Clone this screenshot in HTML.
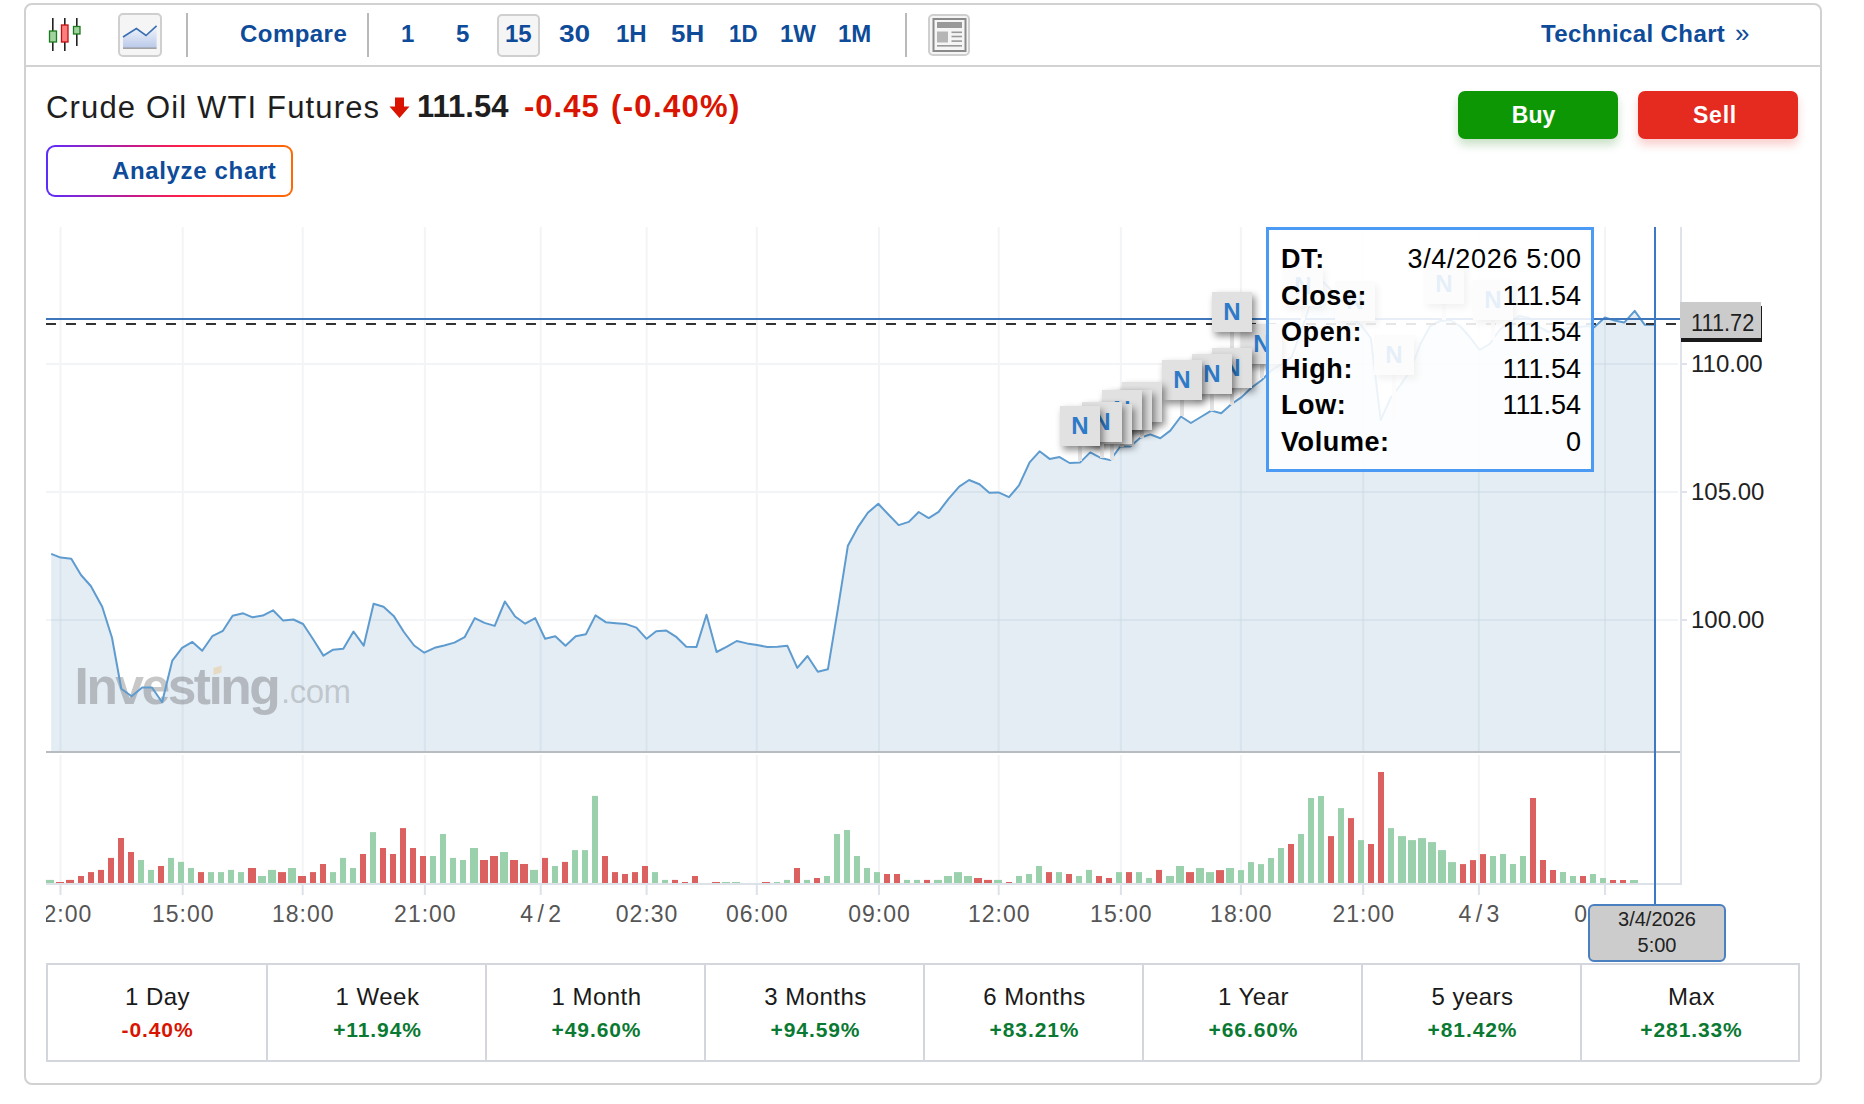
<!DOCTYPE html>
<html>
<head>
<meta charset="utf-8">
<style>
*{box-sizing:border-box;margin:0;padding:0}
html,body{width:1864px;height:1104px;overflow:hidden;background:#fff}
body{position:relative;font-family:"Liberation Sans",Arial,sans-serif;color:#1a1a1a}
.abs{position:absolute}
#frame{position:absolute;left:24px;top:3px;width:1798px;height:1082px;border:2px solid #d1d1d1;border-radius:8px}
#tbline{position:absolute;left:25px;top:65px;width:1796px;height:2px;background:#d2d2d2}
.tb{position:absolute;top:19px;font-size:24px;font-weight:bold;color:#0e4b99;line-height:30px;white-space:nowrap}
.sep{position:absolute;top:13px;width:2px;height:44px;background:#b9b9b9}
.btn{position:absolute;border:2px solid #cfcfcf;border-radius:5px;background:#f5f5f5}
#title{position:absolute;left:46px;top:90px;font-size:31px;letter-spacing:1.15px;line-height:36px;color:#1e1e1e;white-space:nowrap}
#price{position:absolute;left:417px;top:89px;font-size:31px;line-height:36px;font-weight:bold;color:#1e1e1e;white-space:nowrap}
#chg{position:absolute;left:524px;top:89px;font-size:31px;line-height:36px;font-weight:bold;color:#d91400;white-space:nowrap;letter-spacing:1px}
#analyze{position:absolute;left:46px;top:145px;width:247px;height:52px;border-radius:9px;background:linear-gradient(90deg,#5a2dff 0%,#c51a8a 35%,#ff1f4a 55%,#ff6a00 100%);padding:2px}
#analyze div{width:100%;height:100%;background:#fff;border-radius:7px;font-size:24px;font-weight:bold;color:#0e4b99;line-height:48px;padding-left:64px;white-space:nowrap;letter-spacing:0.65px}
.bs{position:absolute;top:91px;width:160px;height:48px;border-radius:7px;color:#fff;font-weight:bold;font-size:23px;line-height:47px;text-align:center;padding-right:9px;padding-top:1px}
#buy{left:1458px;background:#0e9705;box-shadow:0 6px 10px rgba(14,120,5,0.22)}
#sell{left:1638px;background:#e52a1f;box-shadow:0 6px 10px rgba(229,42,31,0.22)}
.xl{position:absolute;top:9px;width:120px;text-align:center;font-size:23px;color:#555;line-height:30px;white-space:nowrap;letter-spacing:1px;text-indent:1px}
.yl{position:absolute;left:1691px;font-size:24px;color:#222;line-height:28px;white-space:nowrap}
#plabel{position:absolute;left:1680px;top:302px;width:81px;height:36px;background:#cbcbcb;box-shadow:1px 4px 0 #1a1a1a;font-size:24px;line-height:42px;color:#1e1e1e;padding-left:11px;white-space:nowrap}
.mk{position:absolute;width:40px;height:40px;background:#e1e1e1;box-shadow:3px 4px 7px rgba(0,0,0,0.45);color:#2d7ac8;font-weight:bold;font-size:24px;line-height:39px;text-align:center}
.stem{position:absolute;width:4px;background:#e3e3e3}
#tip{position:absolute;left:1266px;top:227px;width:328px;height:245px;border:3px solid #4b9af4;background:rgba(255,255,255,0.88)}
.tr{position:absolute;left:12px;width:300px;font-size:27px;line-height:30px;color:#000;white-space:nowrap}
.tr b{position:absolute;left:0;letter-spacing:0.6px}
.tr span{position:absolute;right:0}
#dbox{position:absolute;left:1588px;top:904px;width:138px;height:58px;background:#cccccc;border:2px solid #4a7fc0;border-radius:6px;font-size:20px;line-height:26px;text-align:center;color:#222;padding-top:0px}
#perf{position:absolute;left:46px;top:963px;width:1754px;height:99px;border:2px solid #d3d7dd}
.pc{position:absolute;top:0;height:95px;width:219px;text-align:center}
.pc .a{position:absolute;left:0;right:0;top:17px;font-size:24px;line-height:30px;color:#1a1a1a;letter-spacing:0.5px}
.pc .b{position:absolute;left:0;right:0;top:52px;font-size:21px;line-height:26px;font-weight:bold;letter-spacing:0.9px}
.pd{position:absolute;top:0;width:2px;height:95px;background:#d3d7dd}
.neg{color:#d91400}.pos{color:#0a7a32}
</style>
</head>
<body>
<div id="frame"></div>
<div id="tbline"></div>

<!-- toolbar -->
<svg class="abs" style="left:44px;top:14px" width="42" height="42" viewBox="0 0 42 42">
  <rect x="8" y="4" width="1.6" height="33" fill="#222"/>
  <rect x="5.5" y="17" width="7" height="11" fill="#9fd39f" stroke="#1d7a1d" stroke-width="1.3"/>
  <rect x="20" y="4" width="1.6" height="33" fill="#222"/>
  <rect x="17.5" y="11" width="6.5" height="17" fill="#ff7f7f" stroke="#c01010" stroke-width="1.3"/>
  <rect x="32" y="4" width="1.6" height="28" fill="#222"/>
  <rect x="29.5" y="12.5" width="6.5" height="7.5" fill="#9fd39f" stroke="#1d7a1d" stroke-width="1.3"/>
</svg>
<div class="btn" style="left:118px;top:13px;width:44px;height:44px"></div>
<svg class="abs" style="left:118px;top:13px" width="44" height="44" viewBox="0 0 44 44">
  <defs><linearGradient id="lg" x1="0" y1="0" x2="0" y2="1"><stop offset="0" stop-color="#f4f6fb"/><stop offset="1" stop-color="#b9c9ea"/></linearGradient></defs>
  <polygon points="5,24 18.4,15.5 28,22.5 38.6,12.9 38.6,35 5,35" fill="url(#lg)"/>
  <polyline points="5,24 18.4,15.5 28,22.5 38.6,12.9" fill="none" stroke="#3a6fb3" stroke-width="1.6"/>
  <rect x="5" y="34.5" width="33.6" height="1.4" fill="#9a9a9a"/>
</svg>
<div class="sep" style="left:186px"></div>
<div class="tb" style="left:240px;letter-spacing:0.45px">Compare</div>
<div class="sep" style="left:367px"></div>
<div class="tb" style="left:401px">1</div>
<div class="tb" style="left:456px">5</div>
<div class="btn" style="left:497px;top:14px;width:43px;height:43px"></div>
<div class="tb" style="left:505px">15</div>
<div class="tb" style="left:559px;transform:scaleX(1.17);transform-origin:0 0">30</div>
<div class="tb" style="left:616px">1H</div>
<div class="tb" style="left:671px;transform:scaleX(1.08);transform-origin:0 0">5H</div>
<div class="tb" style="left:729px;transform:scaleX(0.93);transform-origin:0 0">1D</div>
<div class="tb" style="left:780px">1W</div>
<div class="tb" style="left:838px">1M</div>
<div class="sep" style="left:905px"></div>
<div class="btn" style="left:928px;top:14px;width:42px;height:42px"></div>
<svg class="abs" style="left:928px;top:14px" width="42" height="42" viewBox="0 0 42 42">
  <rect x="5.5" y="5" width="32" height="32" fill="none" stroke="#8a8a8a" stroke-width="2"/>
  <rect x="9" y="8" width="25" height="6" fill="#999"/>
  <rect x="9" y="17.5" width="11" height="11" fill="#b5b5b5"/>
  <rect x="23.5" y="17.5" width="10.5" height="1.6" fill="#999"/>
  <rect x="23.5" y="21.7" width="10.5" height="1.6" fill="#999"/>
  <rect x="23.5" y="26.3" width="10.5" height="1.6" fill="#999"/>
  <rect x="9" y="31" width="25" height="1.6" fill="#999"/>
</svg>
<div class="tb" style="left:1541px;letter-spacing:0.4px">Technical Chart</div>
<div class="tb" style="left:1735px;top:18px;font-weight:normal;font-size:26px">&raquo;</div>

<!-- title row -->
<div id="title">Crude Oil WTI Futures</div>
<svg class="abs" style="left:389px;top:97px" width="21" height="22" viewBox="0 0 21 22"><polygon points="6,0.5 15,0.5 15,9.5 20.5,9.5 10.5,21 0.5,9.5 6,9.5" fill="#d91400"/></svg>
<div id="price">111.54</div>
<div id="chg">-0.45</div><div id="chg" style="left:611px;letter-spacing:1.35px">(-0.40%)</div>
<div id="analyze"><div>Analyze chart</div></div>
<div class="bs" id="buy">Buy</div>
<div class="bs" id="sell" style="letter-spacing:0.8px;padding-right:6px">Sell</div>

<!-- chart -->
<svg width="1864" height="1104" viewBox="0 0 1864 1104" style="position:absolute;left:0;top:0">
<defs><clipPath id="pc"><rect x="46" y="227" width="1635" height="524"/></clipPath><clipPath id="vc"><rect x="46" y="753" width="1635" height="131"/></clipPath></defs>
<g clip-path="url(#pc)"><rect x="59.5" y="227" width="2" height="524" fill="#f3f4f6"/><rect x="181.7" y="227" width="2" height="524" fill="#f3f4f6"/><rect x="301.7" y="227" width="2" height="524" fill="#f3f4f6"/><rect x="423.9" y="227" width="2" height="524" fill="#f3f4f6"/><rect x="539.7" y="227" width="2" height="524" fill="#f3f4f6"/><rect x="645.6" y="227" width="2" height="524" fill="#f3f4f6"/><rect x="755.8" y="227" width="2" height="524" fill="#f3f4f6"/><rect x="878" y="227" width="2" height="524" fill="#f3f4f6"/><rect x="997.7" y="227" width="2" height="524" fill="#f3f4f6"/><rect x="1119.9" y="227" width="2" height="524" fill="#f3f4f6"/><rect x="1239.9" y="227" width="2" height="524" fill="#f3f4f6"/><rect x="1362.2" y="227" width="2" height="524" fill="#f3f4f6"/><rect x="1477.9" y="227" width="2" height="524" fill="#f3f4f6"/><rect x="1604" y="227" width="2" height="524" fill="#f3f4f6"/><rect x="46" y="363" width="1632" height="2" fill="#f3f4f6"/><rect x="46" y="491" width="1632" height="2" fill="#f3f4f6"/><rect x="46" y="619" width="1632" height="2" fill="#f3f4f6"/></g>
<rect x="59.5" y="755" width="2" height="128" fill="#f3f4f6"/>
<rect x="181.7" y="755" width="2" height="128" fill="#f3f4f6"/>
<rect x="301.7" y="755" width="2" height="128" fill="#f3f4f6"/>
<rect x="423.9" y="755" width="2" height="128" fill="#f3f4f6"/>
<rect x="539.7" y="755" width="2" height="128" fill="#f3f4f6"/>
<rect x="645.6" y="755" width="2" height="128" fill="#f3f4f6"/>
<rect x="755.8" y="755" width="2" height="128" fill="#f3f4f6"/>
<rect x="878" y="755" width="2" height="128" fill="#f3f4f6"/>
<rect x="997.7" y="755" width="2" height="128" fill="#f3f4f6"/>
<rect x="1119.9" y="755" width="2" height="128" fill="#f3f4f6"/>
<rect x="1239.9" y="755" width="2" height="128" fill="#f3f4f6"/>
<rect x="1362.2" y="755" width="2" height="128" fill="#f3f4f6"/>
<rect x="1477.9" y="755" width="2" height="128" fill="#f3f4f6"/>
<rect x="1604" y="755" width="2" height="128" fill="#f3f4f6"/>
<polygon points="51.2,751 51.2,553.9 60.7,557.6 71.3,558.7 81,575 90.8,586 102.2,606.8 112,637.8 121.3,688.7 131.6,696.2 142.2,687.5 152,687.5 162.1,702.2 172.3,660.6 182.1,647.9 192.4,641.9 202.2,650.8 212.3,636.2 222.9,630.8 232.6,615.8 243.2,613.3 252.6,617.3 262.8,615.6 273,610.3 283.2,620.6 293.4,619.5 303.1,624 313.3,639.5 323.4,655.6 333.1,649.7 343.3,648.7 353.5,631.5 363.7,645.7 373.6,603.8 383.5,606.8 393.7,615.9 403.9,632 414.1,645.5 424.3,652.7 434.6,647.8 444.2,645.5 454.4,642.6 464.6,637.2 474.8,618.1 484.5,622.9 494.7,625.9 504.9,601.5 515.1,616.5 525.2,623.7 535.2,618.1 545.1,638.8 555.3,636.3 565.5,645.7 575.7,636.3 585.9,634.2 595.5,615.4 605.7,622.2 615.9,623.2 626.2,624.1 636.4,627.6 646.6,638.8 656.2,631.3 666.4,630.6 676.6,637.2 686.3,646.7 696.5,646.9 706.5,614.7 716.6,652 726.5,646.9 736.7,641 746.9,643.4 757.1,644.9 767.3,647.1 777.5,646.7 787.4,645.8 797.3,667.8 807.5,656 817.8,671.8 827.9,669.3 837.8,609.4 847.9,545.7 858.3,526.6 867.8,512.7 878.3,503.8 888.2,514.3 898.7,525.1 908.8,521.9 918.7,512 928.7,518.1 938.6,511.8 948.7,498.6 959.2,486.7 969.1,480 979.5,484.2 989.3,492.7 998.6,492.4 1009,497.2 1019,485.4 1029.6,462.4 1039.6,451.3 1049.6,458.9 1059.6,457.1 1069.6,463 1080.2,462.4 1090.2,452.4 1100.2,457.7 1110.3,460.1 1120.3,446.5 1130.3,446.5 1140.3,437.7 1150.3,434.4 1160.3,438.3 1170.3,430.6 1180.9,416.5 1190.9,423 1200.8,417 1211.3,410.6 1221.2,413.2 1231.2,404.3 1241.6,397.1 1251.1,388 1261.6,380.3 1271.8,370 1281.7,364 1291.6,357 1301.5,330 1311.4,300 1321.3,280 1331.2,290 1341.1,305 1351,318 1360.9,325 1370.8,338 1380.7,420 1390.6,398 1400.5,385 1410.4,370 1420.3,344 1430.2,326 1440.1,321 1450,320 1459.9,326 1469.8,337 1479.7,350 1489.6,344 1499.5,330 1509.4,322 1519.3,316 1529.2,318 1539.1,327 1549,332 1558.9,330 1568.8,328 1578.7,327 1588.6,326 1594.2,327.2 1604.9,317.5 1614.6,320.6 1624.2,322.6 1634.7,310.9 1644.6,324.7 1654.3,324.7 1654.3,751" fill="#e4ecf4"/>
<g clip-path="url(#fillclip)"><rect x="59.5" y="227" width="2" height="524" fill="#bcd0d8" fill-opacity="0.28"/><rect x="181.7" y="227" width="2" height="524" fill="#bcd0d8" fill-opacity="0.28"/><rect x="301.7" y="227" width="2" height="524" fill="#bcd0d8" fill-opacity="0.28"/><rect x="423.9" y="227" width="2" height="524" fill="#bcd0d8" fill-opacity="0.28"/><rect x="539.7" y="227" width="2" height="524" fill="#bcd0d8" fill-opacity="0.28"/><rect x="645.6" y="227" width="2" height="524" fill="#bcd0d8" fill-opacity="0.28"/><rect x="755.8" y="227" width="2" height="524" fill="#bcd0d8" fill-opacity="0.28"/><rect x="878" y="227" width="2" height="524" fill="#bcd0d8" fill-opacity="0.28"/><rect x="997.7" y="227" width="2" height="524" fill="#bcd0d8" fill-opacity="0.28"/><rect x="1119.9" y="227" width="2" height="524" fill="#bcd0d8" fill-opacity="0.28"/><rect x="1239.9" y="227" width="2" height="524" fill="#bcd0d8" fill-opacity="0.28"/><rect x="1362.2" y="227" width="2" height="524" fill="#bcd0d8" fill-opacity="0.28"/><rect x="1477.9" y="227" width="2" height="524" fill="#bcd0d8" fill-opacity="0.28"/><rect x="1604" y="227" width="2" height="524" fill="#bcd0d8" fill-opacity="0.28"/><rect x="46" y="363" width="1632" height="2" fill="#bcd0d8" fill-opacity="0.28"/><rect x="46" y="491" width="1632" height="2" fill="#bcd0d8" fill-opacity="0.28"/><rect x="46" y="619" width="1632" height="2" fill="#bcd0d8" fill-opacity="0.28"/></g>
<defs><clipPath id="fillclip"><polygon points="51.2,751 51.2,553.9 60.7,557.6 71.3,558.7 81,575 90.8,586 102.2,606.8 112,637.8 121.3,688.7 131.6,696.2 142.2,687.5 152,687.5 162.1,702.2 172.3,660.6 182.1,647.9 192.4,641.9 202.2,650.8 212.3,636.2 222.9,630.8 232.6,615.8 243.2,613.3 252.6,617.3 262.8,615.6 273,610.3 283.2,620.6 293.4,619.5 303.1,624 313.3,639.5 323.4,655.6 333.1,649.7 343.3,648.7 353.5,631.5 363.7,645.7 373.6,603.8 383.5,606.8 393.7,615.9 403.9,632 414.1,645.5 424.3,652.7 434.6,647.8 444.2,645.5 454.4,642.6 464.6,637.2 474.8,618.1 484.5,622.9 494.7,625.9 504.9,601.5 515.1,616.5 525.2,623.7 535.2,618.1 545.1,638.8 555.3,636.3 565.5,645.7 575.7,636.3 585.9,634.2 595.5,615.4 605.7,622.2 615.9,623.2 626.2,624.1 636.4,627.6 646.6,638.8 656.2,631.3 666.4,630.6 676.6,637.2 686.3,646.7 696.5,646.9 706.5,614.7 716.6,652 726.5,646.9 736.7,641 746.9,643.4 757.1,644.9 767.3,647.1 777.5,646.7 787.4,645.8 797.3,667.8 807.5,656 817.8,671.8 827.9,669.3 837.8,609.4 847.9,545.7 858.3,526.6 867.8,512.7 878.3,503.8 888.2,514.3 898.7,525.1 908.8,521.9 918.7,512 928.7,518.1 938.6,511.8 948.7,498.6 959.2,486.7 969.1,480 979.5,484.2 989.3,492.7 998.6,492.4 1009,497.2 1019,485.4 1029.6,462.4 1039.6,451.3 1049.6,458.9 1059.6,457.1 1069.6,463 1080.2,462.4 1090.2,452.4 1100.2,457.7 1110.3,460.1 1120.3,446.5 1130.3,446.5 1140.3,437.7 1150.3,434.4 1160.3,438.3 1170.3,430.6 1180.9,416.5 1190.9,423 1200.8,417 1211.3,410.6 1221.2,413.2 1231.2,404.3 1241.6,397.1 1251.1,388 1261.6,380.3 1271.8,370 1281.7,364 1291.6,357 1301.5,330 1311.4,300 1321.3,280 1331.2,290 1341.1,305 1351,318 1360.9,325 1370.8,338 1380.7,420 1390.6,398 1400.5,385 1410.4,370 1420.3,344 1430.2,326 1440.1,321 1450,320 1459.9,326 1469.8,337 1479.7,350 1489.6,344 1499.5,330 1509.4,322 1519.3,316 1529.2,318 1539.1,327 1549,332 1558.9,330 1568.8,328 1578.7,327 1588.6,326 1594.2,327.2 1604.9,317.5 1614.6,320.6 1624.2,322.6 1634.7,310.9 1644.6,324.7 1654.3,324.7 1654.3,751"/></clipPath></defs>
<text x="74.6" y="703.5" font-family="Liberation Sans, Arial, sans-serif" font-weight="bold" font-size="51.5" letter-spacing="-2.5" fill="#282828" fill-opacity="0.26">Invest&#305;ng</text>
<text x="281" y="703" font-family="Liberation Sans, Arial, sans-serif" font-size="33" letter-spacing="-0.5" fill="#282828" fill-opacity="0.2">.com</text>
<polygon points="213.5,668 221.5,665.5 221.5,672.5 213.5,675" fill="#f0b050" fill-opacity="0.3"/>
<polyline points="51.2,553.9 60.7,557.6 71.3,558.7 81,575 90.8,586 102.2,606.8 112,637.8 121.3,688.7 131.6,696.2 142.2,687.5 152,687.5 162.1,702.2 172.3,660.6 182.1,647.9 192.4,641.9 202.2,650.8 212.3,636.2 222.9,630.8 232.6,615.8 243.2,613.3 252.6,617.3 262.8,615.6 273,610.3 283.2,620.6 293.4,619.5 303.1,624 313.3,639.5 323.4,655.6 333.1,649.7 343.3,648.7 353.5,631.5 363.7,645.7 373.6,603.8 383.5,606.8 393.7,615.9 403.9,632 414.1,645.5 424.3,652.7 434.6,647.8 444.2,645.5 454.4,642.6 464.6,637.2 474.8,618.1 484.5,622.9 494.7,625.9 504.9,601.5 515.1,616.5 525.2,623.7 535.2,618.1 545.1,638.8 555.3,636.3 565.5,645.7 575.7,636.3 585.9,634.2 595.5,615.4 605.7,622.2 615.9,623.2 626.2,624.1 636.4,627.6 646.6,638.8 656.2,631.3 666.4,630.6 676.6,637.2 686.3,646.7 696.5,646.9 706.5,614.7 716.6,652 726.5,646.9 736.7,641 746.9,643.4 757.1,644.9 767.3,647.1 777.5,646.7 787.4,645.8 797.3,667.8 807.5,656 817.8,671.8 827.9,669.3 837.8,609.4 847.9,545.7 858.3,526.6 867.8,512.7 878.3,503.8 888.2,514.3 898.7,525.1 908.8,521.9 918.7,512 928.7,518.1 938.6,511.8 948.7,498.6 959.2,486.7 969.1,480 979.5,484.2 989.3,492.7 998.6,492.4 1009,497.2 1019,485.4 1029.6,462.4 1039.6,451.3 1049.6,458.9 1059.6,457.1 1069.6,463 1080.2,462.4 1090.2,452.4 1100.2,457.7 1110.3,460.1 1120.3,446.5 1130.3,446.5 1140.3,437.7 1150.3,434.4 1160.3,438.3 1170.3,430.6 1180.9,416.5 1190.9,423 1200.8,417 1211.3,410.6 1221.2,413.2 1231.2,404.3 1241.6,397.1 1251.1,388 1261.6,380.3 1271.8,370 1281.7,364 1291.6,357 1301.5,330 1311.4,300 1321.3,280 1331.2,290 1341.1,305 1351,318 1360.9,325 1370.8,338 1380.7,420 1390.6,398 1400.5,385 1410.4,370 1420.3,344 1430.2,326 1440.1,321 1450,320 1459.9,326 1469.8,337 1479.7,350 1489.6,344 1499.5,330 1509.4,322 1519.3,316 1529.2,318 1539.1,327 1549,332 1558.9,330 1568.8,328 1578.7,327 1588.6,326 1594.2,327.2 1604.9,317.5 1614.6,320.6 1624.2,322.6 1634.7,310.9 1644.6,324.7 1654.3,324.7" fill="none" stroke="#5e9bcf" stroke-width="2" stroke-linejoin="round"/>
<rect x="46" y="318" width="1635" height="2" fill="#3f77bd"/>
<line x1="46" y1="324" x2="1678" y2="324" stroke="#333" stroke-width="2" stroke-dasharray="10 10"/>
<rect x="46" y="751" width="1635" height="2" fill="#b8bbbf"/>
<rect x="1680" y="227" width="2" height="657" fill="#dfe3e9"/>
<rect x="1681" y="363" width="6" height="2" fill="#dfe3e9"/>
<rect x="1681" y="491" width="6" height="2" fill="#dfe3e9"/>
<rect x="1681" y="619" width="6" height="2" fill="#dfe3e9"/>
<rect x="46" y="879.9" width="8" height="3.1" fill="#9bd0ad"/>
<rect x="56" y="882" width="8" height="1" fill="#db6060"/>
<rect x="66" y="879.9" width="8" height="3.1" fill="#db6060"/>
<rect x="78" y="876" width="6" height="7" fill="#db6060"/>
<rect x="88" y="872.1" width="6" height="10.9" fill="#db6060"/>
<rect x="98" y="869.9" width="6" height="13.1" fill="#db6060"/>
<rect x="108" y="857.9" width="6" height="25.1" fill="#db6060"/>
<rect x="118" y="838" width="6" height="45" fill="#db6060"/>
<rect x="128" y="852" width="6" height="31" fill="#db6060"/>
<rect x="138" y="860" width="6" height="23" fill="#9bd0ad"/>
<rect x="148" y="869.9" width="6" height="13.1" fill="#9bd0ad"/>
<rect x="158" y="866" width="6" height="17" fill="#db6060"/>
<rect x="168" y="857.9" width="6" height="25.1" fill="#9bd0ad"/>
<rect x="178" y="861.9" width="6" height="21.1" fill="#9bd0ad"/>
<rect x="188" y="868" width="6" height="15" fill="#9bd0ad"/>
<rect x="198" y="872.1" width="6" height="10.9" fill="#db6060"/>
<rect x="208" y="872.1" width="6" height="10.9" fill="#9bd0ad"/>
<rect x="218" y="872.1" width="6" height="10.9" fill="#9bd0ad"/>
<rect x="228" y="869.9" width="6" height="13.1" fill="#9bd0ad"/>
<rect x="238" y="872.1" width="6" height="10.9" fill="#9bd0ad"/>
<rect x="248" y="868" width="8" height="15" fill="#db6060"/>
<rect x="258" y="876" width="8" height="7" fill="#9bd0ad"/>
<rect x="268" y="869.9" width="8" height="13.1" fill="#9bd0ad"/>
<rect x="278" y="872.1" width="8" height="10.9" fill="#db6060"/>
<rect x="288" y="868" width="8" height="15" fill="#9bd0ad"/>
<rect x="298" y="876" width="8" height="7" fill="#db6060"/>
<rect x="310" y="872.1" width="6" height="10.9" fill="#db6060"/>
<rect x="320" y="864" width="6" height="19" fill="#db6060"/>
<rect x="330" y="872.1" width="6" height="10.9" fill="#9bd0ad"/>
<rect x="340" y="857.9" width="6" height="25.1" fill="#9bd0ad"/>
<rect x="350" y="868" width="6" height="15" fill="#9bd0ad"/>
<rect x="360" y="854" width="6" height="29" fill="#db6060"/>
<rect x="370" y="832.1" width="6" height="50.9" fill="#9bd0ad"/>
<rect x="380" y="848" width="6" height="35" fill="#db6060"/>
<rect x="390" y="854" width="6" height="29" fill="#db6060"/>
<rect x="400" y="828.1" width="6" height="54.9" fill="#db6060"/>
<rect x="410" y="848" width="6" height="35" fill="#db6060"/>
<rect x="420" y="856" width="6" height="27" fill="#db6060"/>
<rect x="430" y="856" width="6" height="27" fill="#9bd0ad"/>
<rect x="440" y="834" width="6" height="49" fill="#9bd0ad"/>
<rect x="450" y="857.9" width="6" height="25.1" fill="#9bd0ad"/>
<rect x="460" y="860" width="6" height="23" fill="#9bd0ad"/>
<rect x="470" y="848" width="8" height="35" fill="#9bd0ad"/>
<rect x="480" y="860" width="8" height="23" fill="#db6060"/>
<rect x="490" y="856" width="8" height="27" fill="#db6060"/>
<rect x="500" y="852" width="8" height="31" fill="#9bd0ad"/>
<rect x="510" y="860" width="8" height="23" fill="#db6060"/>
<rect x="520" y="864" width="8" height="19" fill="#db6060"/>
<rect x="530" y="869.9" width="8" height="13.1" fill="#9bd0ad"/>
<rect x="542" y="857.9" width="6" height="25.1" fill="#db6060"/>
<rect x="552" y="866" width="6" height="17" fill="#9bd0ad"/>
<rect x="562" y="861.9" width="6" height="21.1" fill="#db6060"/>
<rect x="572" y="850.1" width="6" height="32.9" fill="#9bd0ad"/>
<rect x="582" y="850.1" width="6" height="32.9" fill="#9bd0ad"/>
<rect x="592" y="795.9" width="6" height="87.1" fill="#9bd0ad"/>
<rect x="602" y="856" width="6" height="27" fill="#db6060"/>
<rect x="612" y="872.1" width="6" height="10.9" fill="#db6060"/>
<rect x="622" y="874" width="6" height="9" fill="#db6060"/>
<rect x="632" y="872.1" width="6" height="10.9" fill="#db6060"/>
<rect x="642" y="866" width="6" height="17" fill="#db6060"/>
<rect x="652" y="872.1" width="6" height="10.9" fill="#9bd0ad"/>
<rect x="662" y="879.9" width="6" height="3.1" fill="#9bd0ad"/>
<rect x="672" y="879.9" width="6" height="3.1" fill="#db6060"/>
<rect x="682" y="882" width="6" height="1" fill="#db6060"/>
<rect x="692" y="876" width="6" height="7" fill="#db6060"/>
<rect x="712" y="882" width="8" height="1" fill="#db6060"/>
<rect x="722" y="882" width="8" height="1" fill="#9bd0ad"/>
<rect x="732" y="882" width="8" height="1" fill="#9bd0ad"/>
<rect x="762" y="882" width="8" height="1" fill="#db6060"/>
<rect x="774" y="882" width="6" height="1" fill="#9bd0ad"/>
<rect x="784" y="879.9" width="6" height="3.1" fill="#9bd0ad"/>
<rect x="794" y="868" width="6" height="15" fill="#db6060"/>
<rect x="804" y="879.9" width="6" height="3.1" fill="#9bd0ad"/>
<rect x="814" y="878" width="6" height="5" fill="#db6060"/>
<rect x="824" y="876" width="6" height="7" fill="#9bd0ad"/>
<rect x="834" y="834" width="6" height="49" fill="#9bd0ad"/>
<rect x="844" y="830" width="6" height="53" fill="#9bd0ad"/>
<rect x="854" y="856" width="6" height="27" fill="#9bd0ad"/>
<rect x="864" y="868" width="6" height="15" fill="#9bd0ad"/>
<rect x="874" y="872.1" width="6" height="10.9" fill="#9bd0ad"/>
<rect x="884" y="874" width="6" height="9" fill="#db6060"/>
<rect x="894" y="874" width="6" height="9" fill="#db6060"/>
<rect x="904" y="879.9" width="6" height="3.1" fill="#9bd0ad"/>
<rect x="914" y="879.9" width="6" height="3.1" fill="#9bd0ad"/>
<rect x="924" y="879.9" width="6" height="3.1" fill="#db6060"/>
<rect x="934" y="879.9" width="8" height="3.1" fill="#9bd0ad"/>
<rect x="944" y="876" width="8" height="7" fill="#9bd0ad"/>
<rect x="954" y="872.1" width="8" height="10.9" fill="#9bd0ad"/>
<rect x="964" y="876" width="8" height="7" fill="#9bd0ad"/>
<rect x="974" y="878" width="8" height="5" fill="#db6060"/>
<rect x="984" y="879.9" width="8" height="3.1" fill="#db6060"/>
<rect x="994" y="879.9" width="8" height="3.1" fill="#9bd0ad"/>
<rect x="1006" y="882" width="6" height="1" fill="#db6060"/>
<rect x="1016" y="876" width="6" height="7" fill="#9bd0ad"/>
<rect x="1026" y="874" width="6" height="9" fill="#9bd0ad"/>
<rect x="1036" y="866" width="6" height="17" fill="#9bd0ad"/>
<rect x="1046" y="872.1" width="6" height="10.9" fill="#db6060"/>
<rect x="1056" y="872.1" width="6" height="10.9" fill="#9bd0ad"/>
<rect x="1066" y="874" width="6" height="9" fill="#db6060"/>
<rect x="1076" y="876" width="6" height="7" fill="#9bd0ad"/>
<rect x="1086" y="869.9" width="6" height="13.1" fill="#9bd0ad"/>
<rect x="1096" y="876" width="6" height="7" fill="#db6060"/>
<rect x="1106" y="878" width="6" height="5" fill="#db6060"/>
<rect x="1116" y="872.1" width="6" height="10.9" fill="#9bd0ad"/>
<rect x="1126" y="872.1" width="6" height="10.9" fill="#db6060"/>
<rect x="1136" y="872.1" width="6" height="10.9" fill="#9bd0ad"/>
<rect x="1146" y="878" width="6" height="5" fill="#9bd0ad"/>
<rect x="1156" y="869.9" width="6" height="13.1" fill="#db6060"/>
<rect x="1166" y="876" width="8" height="7" fill="#9bd0ad"/>
<rect x="1176" y="866" width="8" height="17" fill="#9bd0ad"/>
<rect x="1186" y="872.1" width="8" height="10.9" fill="#db6060"/>
<rect x="1196" y="868" width="8" height="15" fill="#9bd0ad"/>
<rect x="1206" y="872.1" width="8" height="10.9" fill="#9bd0ad"/>
<rect x="1216" y="870.1" width="8" height="12.9" fill="#db6060"/>
<rect x="1226" y="868" width="8" height="15" fill="#9bd0ad"/>
<rect x="1238" y="870.1" width="6" height="12.9" fill="#9bd0ad"/>
<rect x="1248" y="862.1" width="6" height="20.9" fill="#9bd0ad"/>
<rect x="1258" y="864.1" width="6" height="18.9" fill="#9bd0ad"/>
<rect x="1268" y="858" width="6" height="25" fill="#9bd0ad"/>
<rect x="1278" y="848" width="6" height="35" fill="#9bd0ad"/>
<rect x="1288" y="844" width="6" height="39" fill="#db6060"/>
<rect x="1298" y="834" width="6" height="49" fill="#9bd0ad"/>
<rect x="1308" y="798" width="6" height="85" fill="#9bd0ad"/>
<rect x="1318" y="796" width="6" height="87" fill="#9bd0ad"/>
<rect x="1328" y="836.1" width="6" height="46.9" fill="#db6060"/>
<rect x="1338" y="808.1" width="6" height="74.9" fill="#9bd0ad"/>
<rect x="1348" y="818.1" width="6" height="64.9" fill="#db6060"/>
<rect x="1358" y="840.1" width="6" height="42.9" fill="#9bd0ad"/>
<rect x="1368" y="844" width="6" height="39" fill="#db6060"/>
<rect x="1378" y="772" width="6" height="111" fill="#db6060"/>
<rect x="1388" y="828.1" width="6" height="54.9" fill="#9bd0ad"/>
<rect x="1398" y="836.1" width="8" height="46.9" fill="#9bd0ad"/>
<rect x="1408" y="840.1" width="8" height="42.9" fill="#9bd0ad"/>
<rect x="1418" y="838.1" width="8" height="44.9" fill="#9bd0ad"/>
<rect x="1428" y="842.1" width="8" height="40.9" fill="#9bd0ad"/>
<rect x="1438" y="850.1" width="8" height="32.9" fill="#9bd0ad"/>
<rect x="1448" y="862.1" width="8" height="20.9" fill="#9bd0ad"/>
<rect x="1460" y="864.1" width="6" height="18.9" fill="#db6060"/>
<rect x="1470" y="860.1" width="6" height="22.9" fill="#db6060"/>
<rect x="1480" y="854.1" width="6" height="28.9" fill="#db6060"/>
<rect x="1490" y="856" width="6" height="27" fill="#9bd0ad"/>
<rect x="1500" y="854" width="6" height="29" fill="#9bd0ad"/>
<rect x="1510" y="864" width="6" height="19" fill="#9bd0ad"/>
<rect x="1520" y="856" width="6" height="27" fill="#9bd0ad"/>
<rect x="1530" y="798" width="6" height="85" fill="#db6060"/>
<rect x="1540" y="860" width="6" height="23" fill="#db6060"/>
<rect x="1550" y="870" width="6" height="13" fill="#db6060"/>
<rect x="1560" y="872" width="6" height="11" fill="#9bd0ad"/>
<rect x="1570" y="876" width="6" height="7" fill="#9bd0ad"/>
<rect x="1580" y="876" width="6" height="7" fill="#db6060"/>
<rect x="1590" y="874" width="6" height="9" fill="#9bd0ad"/>
<rect x="1600" y="878" width="6" height="5" fill="#9bd0ad"/>
<rect x="1610" y="880" width="6" height="3" fill="#db6060"/>
<rect x="1620" y="880" width="6" height="3" fill="#db6060"/>
<rect x="1630" y="880" width="8" height="3" fill="#9bd0ad"/>
<rect x="46" y="883" width="1636" height="2" fill="#dde2e9"/>
<rect x="59.5" y="884" width="2" height="11" fill="#dde2e9"/>
<rect x="181.7" y="884" width="2" height="11" fill="#dde2e9"/>
<rect x="301.7" y="884" width="2" height="11" fill="#dde2e9"/>
<rect x="423.9" y="884" width="2" height="11" fill="#dde2e9"/>
<rect x="539.7" y="884" width="2" height="11" fill="#dde2e9"/>
<rect x="645.6" y="884" width="2" height="11" fill="#dde2e9"/>
<rect x="755.8" y="884" width="2" height="11" fill="#dde2e9"/>
<rect x="878" y="884" width="2" height="11" fill="#dde2e9"/>
<rect x="997.7" y="884" width="2" height="11" fill="#dde2e9"/>
<rect x="1119.9" y="884" width="2" height="11" fill="#dde2e9"/>
<rect x="1239.9" y="884" width="2" height="11" fill="#dde2e9"/>
<rect x="1362.2" y="884" width="2" height="11" fill="#dde2e9"/>
<rect x="1477.9" y="884" width="2" height="11" fill="#dde2e9"/>
<rect x="1604" y="884" width="2" height="11" fill="#dde2e9"/>
<rect x="1654" y="227" width="2" height="677" fill="#3d78c2"/>
</svg>
<div style="position:absolute;left:46px;top:890px;width:1636px;height:40px;overflow:hidden">
<div style="position:absolute;left:-46px;top:0">
<div class="xl" style="left:0.5px">12:00</div>
<div class="xl" style="left:122.7px">15:00</div>
<div class="xl" style="left:242.7px">18:00</div>
<div class="xl" style="left:364.9px">21:00</div>
<div class="xl" style="left:480.7px;letter-spacing:4.5px;text-indent:4.5px">4/2</div>
<div class="xl" style="left:586.6px">02:30</div>
<div class="xl" style="left:696.8px">06:00</div>
<div class="xl" style="left:819px">09:00</div>
<div class="xl" style="left:938.7px">12:00</div>
<div class="xl" style="left:1060.9px">15:00</div>
<div class="xl" style="left:1180.9px">18:00</div>
<div class="xl" style="left:1303.2px">21:00</div>
<div class="xl" style="left:1418.9px;letter-spacing:4.5px;text-indent:4.5px">4/3</div>
<div class="xl" style="left:1545px">03:00</div>
</div>
</div>
<div class="yl" style="top:350px">110.00</div>
<div class="yl" style="top:478px">105.00</div>
<div class="yl" style="top:606px">100.00</div>
<div id="plabel"><span style="display:inline-block;transform:scaleX(0.905);transform-origin:0 0">111.72</span></div>
<div class="stem" style="left:1301px;top:306px;height:14px"></div>
<div class="mk" style="left:1283px;top:266px">N</div>
<div class="stem" style="left:1353px;top:321px;height:-3px"></div>
<div class="mk" style="left:1335px;top:281px">N</div>
<div class="stem" style="left:1392px;top:375px;height:45px"></div>
<div class="mk" style="left:1374px;top:335px">N</div>
<div class="stem" style="left:1442px;top:304px;height:16px"></div>
<div class="mk" style="left:1424px;top:264px">N</div>
<div class="stem" style="left:1491px;top:320px;height:20px"></div>
<div class="mk" style="left:1473px;top:280px">N</div>
<div class="stem" style="left:1260px;top:364px;height:14px"></div>
<div class="mk" style="left:1242px;top:324px">N</div>
<div class="stem" style="left:1230px;top:332px;height:16px"></div>
<div class="mk" style="left:1212px;top:292px">N</div>
<div class="stem" style="left:1230px;top:388px;height:17px"></div>
<div class="mk" style="left:1212px;top:348px">N</div>
<div class="stem" style="left:1210px;top:394px;height:17px"></div>
<div class="mk" style="left:1192px;top:354px">N</div>
<div class="stem" style="left:1180px;top:400px;height:16px"></div>
<div class="mk" style="left:1162px;top:360px">N</div>
<div class="stem" style="left:1140px;top:422px;height:16px"></div>
<div class="mk" style="left:1122px;top:382px">N</div>
<div class="stem" style="left:1130px;top:430px;height:16px"></div>
<div class="mk" style="left:1112px;top:390px">N</div>
<div class="stem" style="left:1120px;top:430px;height:17px"></div>
<div class="mk" style="left:1102px;top:390px">N</div>
<div class="stem" style="left:1110px;top:444px;height:16px"></div>
<div class="mk" style="left:1092px;top:404px">N</div>
<div class="stem" style="left:1100px;top:442px;height:16px"></div>
<div class="mk" style="left:1082px;top:402px">N</div>
<div class="stem" style="left:1078px;top:446px;height:15px"></div>
<div class="mk" style="left:1060px;top:406px">N</div>
<div id="tip">
  <div class="tr" style="top:14px"><b>DT:</b><span style="letter-spacing:0.7px;right:-0.7px">3/4/2026 5:00</span></div>
  <div class="tr" style="top:51px"><b>Close:</b><span>111.54</span></div>
  <div class="tr" style="top:87px"><b>Open:</b><span>111.54</span></div>
  <div class="tr" style="top:124px"><b>High:</b><span>111.54</span></div>
  <div class="tr" style="top:160px"><b>Low:</b><span>111.54</span></div>
  <div class="tr" style="top:197px"><b>Volume:</b><span>0</span></div>
</div>
<div id="dbox">3/4/2026<br>5:00</div>

<!-- performance -->
<div id="perf">
  <div class="pc" style="left:0"><div class="a">1 Day</div><div class="b neg">-0.40%</div></div>
  <div class="pd" style="left:218px"></div>
  <div class="pc" style="left:220px"><div class="a">1 Week</div><div class="b pos">+11.94%</div></div>
  <div class="pd" style="left:437px"></div>
  <div class="pc" style="left:439px"><div class="a">1 Month</div><div class="b pos">+49.60%</div></div>
  <div class="pd" style="left:656px"></div>
  <div class="pc" style="left:658px"><div class="a">3 Months</div><div class="b pos">+94.59%</div></div>
  <div class="pd" style="left:875px"></div>
  <div class="pc" style="left:877px"><div class="a">6 Months</div><div class="b pos">+83.21%</div></div>
  <div class="pd" style="left:1094px"></div>
  <div class="pc" style="left:1096px"><div class="a">1 Year</div><div class="b pos">+66.60%</div></div>
  <div class="pd" style="left:1313px"></div>
  <div class="pc" style="left:1315px"><div class="a">5 years</div><div class="b pos">+81.42%</div></div>
  <div class="pd" style="left:1532px"></div>
  <div class="pc" style="left:1534px"><div class="a">Max</div><div class="b pos">+281.33%</div></div>
</div>
</body>
</html>
